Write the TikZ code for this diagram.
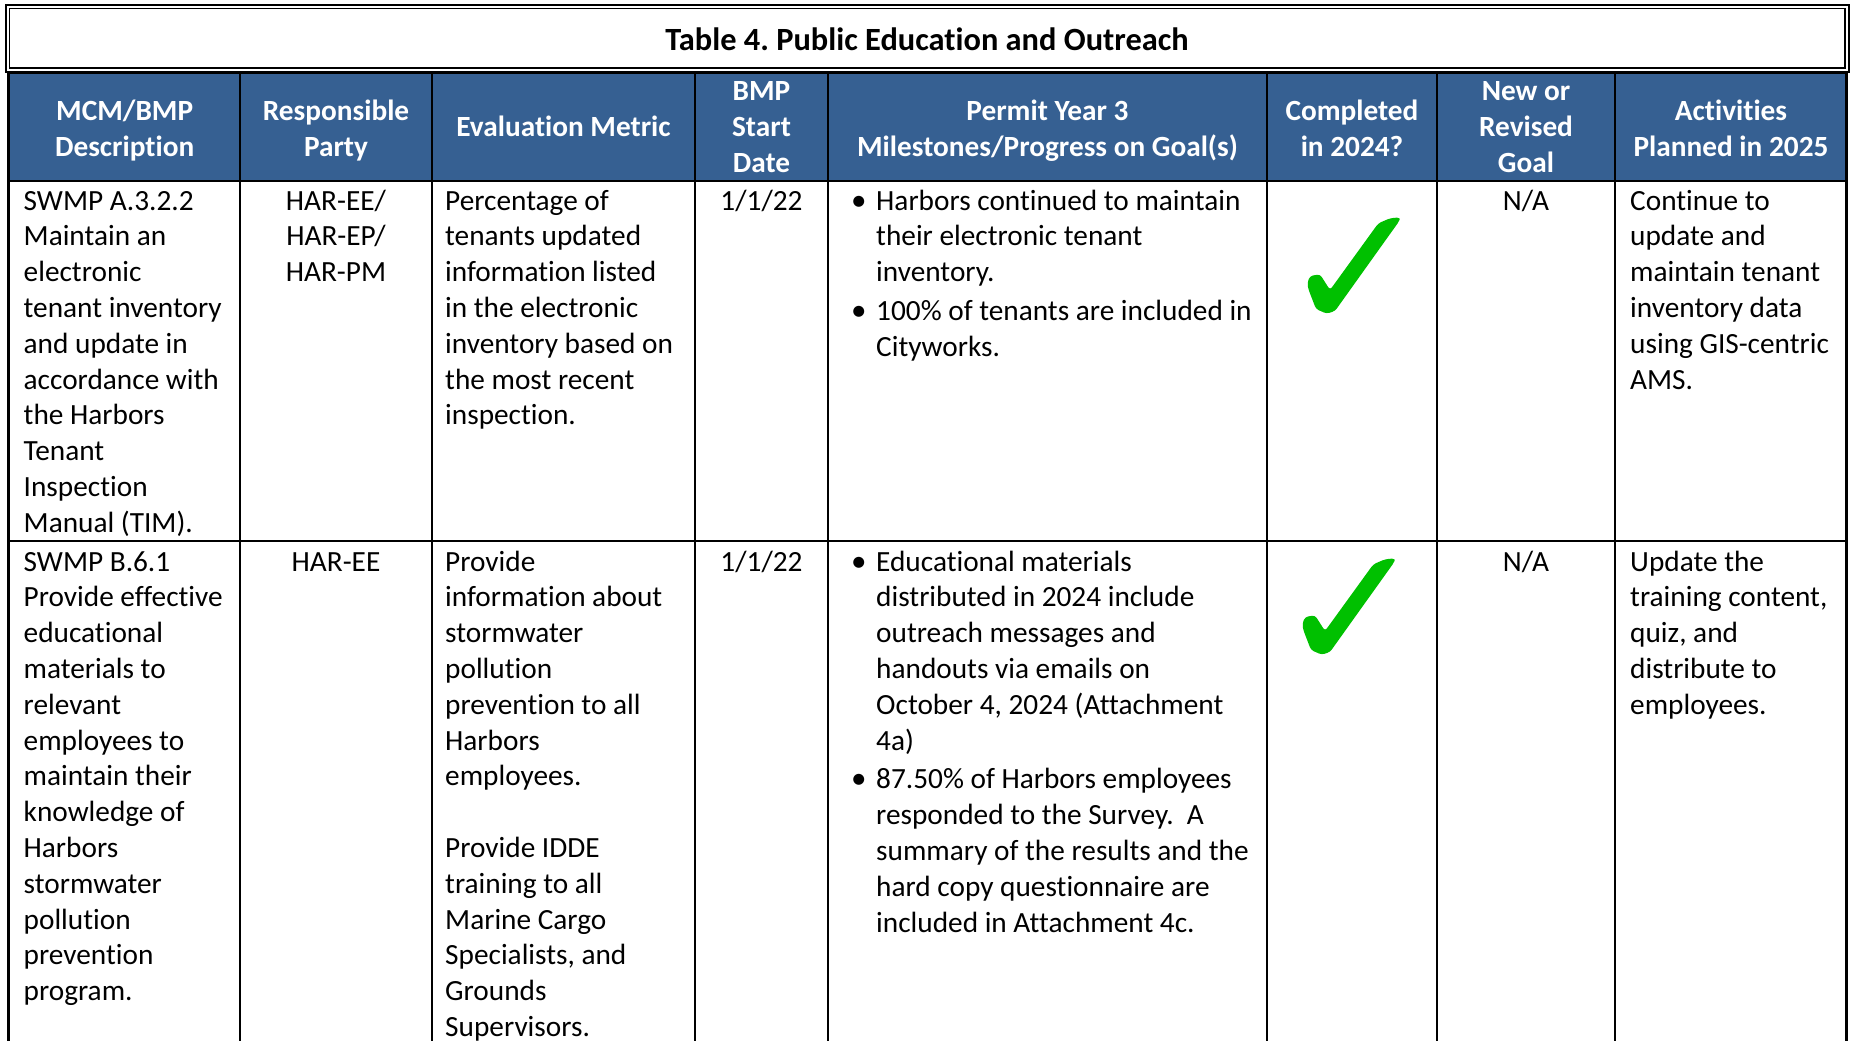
\documentclass[tikz,border=0pt]{standalone}
\usepackage{fontspec}
\setmainfont{Carlito}[Ligatures=NoCommon]
\frenchspacing
\definecolor{hdrblue}{RGB}{54,96,146}
\definecolor{checkgreen}{RGB}{0,192,0}
\newcommand\celllines[6][35.8]{%
  \foreach[count=\i] \cellline in {#6}{%
    \node[#5] (#2-\i) at (#3,{#4+(\i-1)*#1}) {\cellline};}}
\tikzset{
  txt/.style={font=\fontsize{29.3}{35.8}\selectfont, inner sep=0pt, anchor=base west},
  ctxt/.style={txt, anchor=base},
  htxt/.style={font=\fontsize{29.3}{36}\selectfont\bfseries, text=white, inner sep=0pt, anchor=base},
  bul/.style={font=\fontsize{31}{35.8}\selectfont, inner sep=0pt, anchor=base west},
  gridline/.style={line width=2.5pt, black},
  gcheck/.pic={\fill[checkgreen, rounded corners=3pt]
    (17.3,78) -- (20,71) -- (30,69.3) -- (40,85) -- (88.3,18.3) -- (100,13.3)
    -- (110,12.3) -- (109.3,16) -- (45,106) -- (36.7,108.7) -- (26,104)
    -- (18.3,84) -- cycle;}
}
\begin{document}
\begin{tikzpicture}[x=1pt,y=-1pt]
\useasboundingbox (0,0) rectangle (1851,1041);
% title box (double border)
\draw[line width=2pt] (6,5) rectangle (1848.5,71.5);
\draw[line width=1.5pt] (9.5,8.5) rectangle (1845,68);
\node[font=\fontsize{32.4}{38}\selectfont\bfseries, inner sep=0pt, anchor=base] (title) at (927,51) {Table 4. Public Education and Outreach};
% header fill
\fill[hdrblue] (8.5,73) rectangle (1846.5,181);
% grid
\foreach \gx in {8.5,240,432,695,828,1267,1437,1615,1846.5}
  \draw[gridline] (\gx,72.5) -- (\gx,1041);
\draw[gridline] (7.25,73) -- (1847.75,73);
\draw[gridline] (7.25,181) -- (1847.75,181);
\draw[gridline] (7.25,541) -- (1847.75,541);
% header texts
\celllines[36]{ha}{124.7}{120}{htxt}{{MCM/BMP},{Description}}
\celllines[36]{hb}{336}{120}{htxt}{{Responsible},{Party}}
\celllines[36]{hc}{563.5}{136.7}{htxt}{{Evaluation Metric}}
\celllines[36]{hd}{761.5}{100.5}{htxt}{{BMP},{Start},{Date}}
\celllines[36]{he}{1047.5}{120}{htxt}{{Permit Year 3},{Milestones/Progress on Goal(s)}}
\celllines[36]{hf}{1352}{120}{htxt}{{Completed},{in 2024?}}
\celllines[36]{hg}{1526}{100.5}{htxt}{{New or},{Revised},{Goal}}
\celllines[36]{hh}{1731}{120}{htxt}{{Activities},{Planned in 2025}}
% row 1
\celllines{ra}{23.5}{210}{txt}{{SWMP A.3.2.2},{Maintain an},{electronic},{tenant inventory},{and update in},{accordance with},{the Harbors},{Tenant},{Inspection},{Manual (TIM).}}
\celllines{rb}{336}{210}{ctxt}{{HAR-EE/},{HAR-EP/},{HAR-PM}}
\celllines{rc}{445}{210}{txt}{{Percentage of},{tenants updated},{information listed},{in the electronic},{inventory based on},{the most recent},{inspection.}}
\celllines{rd}{761.5}{210}{ctxt}{{1/1/22}}
\node[bul] (rbul1) at (851,210) {•};
\celllines{re}{876}{210}{txt}{{Harbors continued to maintain},{their electronic tenant},{inventory.}}
\node[bul] (rbul2) at (851,320.4) {•};
\celllines{rf}{876}{320.4}{txt}{{100\% of tenants are included in},{Cityworks.}}
\pic (chk1) at (1290,205) {gcheck};
\celllines{rg}{1526}{210}{ctxt}{{N/A}}
\celllines{rh}{1630}{210}{txt}{{Continue to},{update and},{maintain tenant},{inventory data},{using GIS-centric},{AMS.}}
% row 2
\celllines{sa}{23.5}{571}{txt}{{SWMP B.6.1},{Provide effective},{educational},{materials to},{relevant},{employees to},{maintain their},{knowledge of},{Harbors},{stormwater},{pollution},{prevention},{program.}}
\celllines{sb}{336}{571}{ctxt}{{HAR-EE}}
\celllines{sc}{445}{571}{txt}{{Provide},{information about},{stormwater},{pollution},{prevention to all},{Harbors},{employees.}}
\celllines{sd}{445}{857.4}{txt}{{Provide IDDE},{training to all},{Marine Cargo},{Specialists, and},{Grounds},{Supervisors.}}
\celllines{se}{761.5}{571}{ctxt}{{1/1/22}}
\node[bul] (sbul1) at (851,571) {•};
\celllines{sf}{876}{571}{txt}{{Educational materials},{distributed in 2024 include},{outreach messages and},{handouts via emails on},{October 4, 2024 (Attachment},{4a)}}
\node[bul] (sbul2) at (851,788.8) {•};
\celllines{sg}{876}{788.8}{txt}{{87.50\% of Harbors employees},{responded to the Survey.\ \ A},{summary of the results and the},{hard copy questionnaire are},{included in Attachment 4c.}}
\pic (chk2) at (1285,546) {gcheck};
\celllines{sh}{1526}{571}{ctxt}{{N/A}}
\celllines{si}{1630}{571}{txt}{{Update the},{training content,},{quiz, and},{distribute to},{employees.}}
\end{tikzpicture}
\end{document}
